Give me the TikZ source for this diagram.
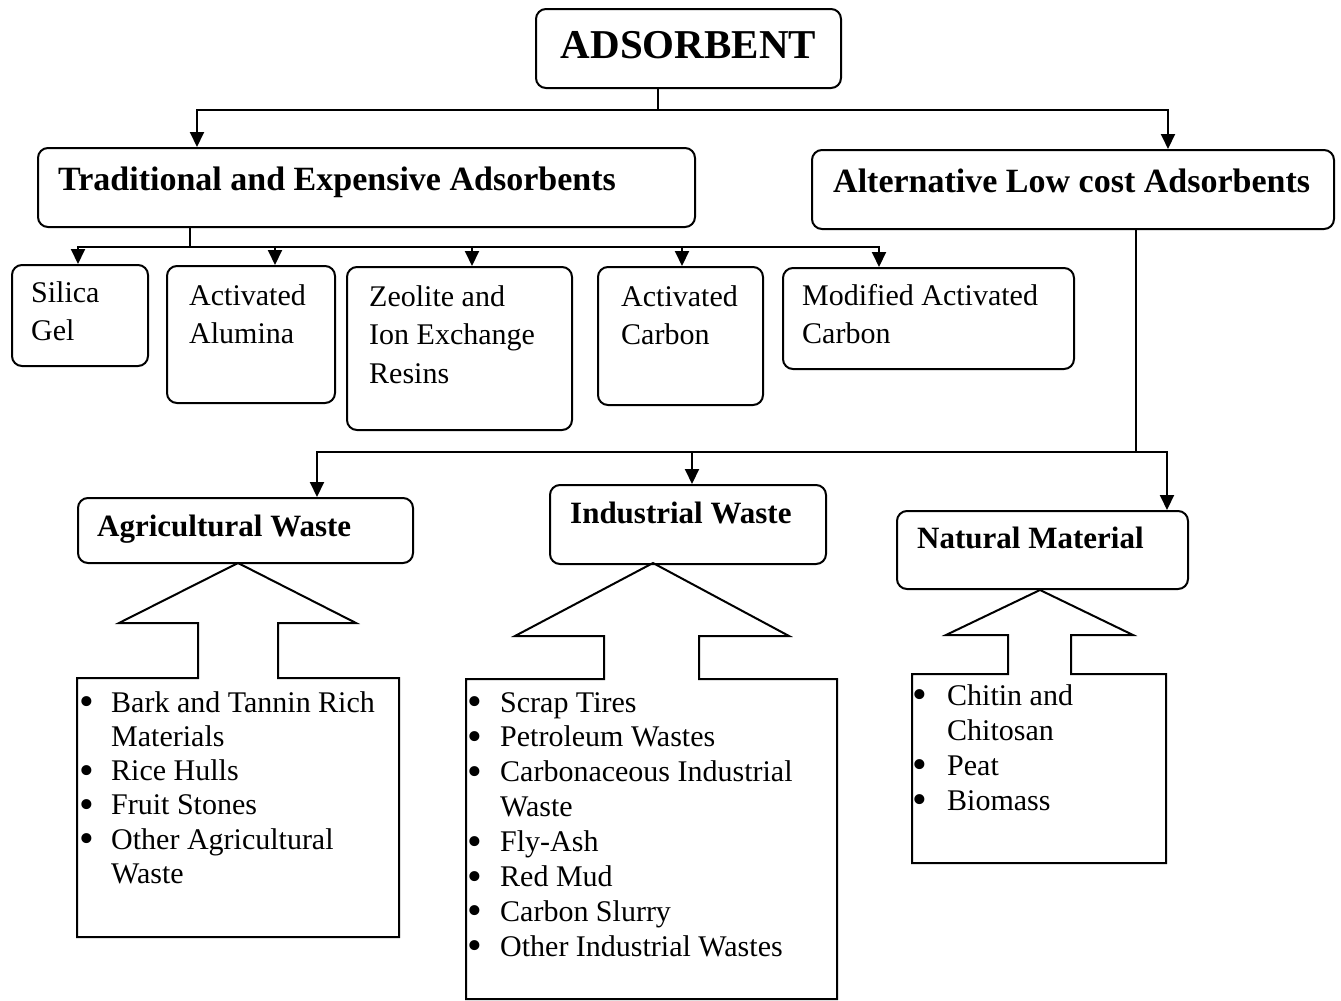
\documentclass[tikz,border=0pt]{standalone}
\usepackage{fontspec}
\usepackage{graphicx}
\setmainfont{Liberation Serif}
\usetikzlibrary{arrows.meta}

\tikzset{
  rbox/.style={draw,line width=2pt,rounded corners=10pt,anchor=north west,inner sep=0pt},
  btxt/.style={anchor=base west,align=left,inner sep=0pt,font=\fontsize{30}{38.5}\selectfont},
  htxt/.style={anchor=base west,inner sep=0pt,font=\bfseries\fontsize{34}{40}\selectfont},
  stxt/.style={anchor=base west,inner sep=0pt,font=\bfseries\fontsize{31}{36}\selectfont},
  conn/.style={line width=2pt},
  blk/.style={line width=2pt,line join=miter},
}
\newcommand{\bul}[1]{\makebox[#1][l]{\smash{\raisebox{-3.5pt}{\scalebox{1.4}{\textbullet}}}}}

\begin{document}
\begin{tikzpicture}[x=1pt,y=-1pt,>={Triangle[length=15pt,width=14pt]}]
\useasboundingbox (0,0) rectangle (1341,1001);

% top
\node[rbox,minimum width=305pt,minimum height=79pt,text depth=8pt,font=\bfseries\fontsize{41}{41}\selectfont] (root) at (535,8) {ADSORBENT};

\node[rbox,minimum width=657pt,minimum height=79pt] (trad) at (37,147) {};
\node[htxt] (tradtxt) at (58,190) {Traditional and Expensive Adsorbents};
\node[rbox,minimum width=522pt,minimum height=79pt] (alt) at (811,149) {};
\node[htxt] (alttxt) at (833,192) {Alternative Low cost Adsorbents};

% traditional ones (text placed by its last baseline)
\node[rbox,minimum width=136pt,minimum height=101pt] (silica) at (11,264) {};
\node[btxt] (silicatxt) at (31,340.5) {Silica\\Gel};
\node[rbox,minimum width=168pt,minimum height=137pt] (alumina) at (166,265) {};
\node[btxt] (aluminatxt) at (189,343.5) {Activated\\Alumina};
\node[rbox,minimum width=225pt,minimum height=163pt] (zeolite) at (346,266) {};
\node[btxt] (zeolitetxt) at (369,383) {Zeolite and\\Ion Exchange\\Resins};
\node[rbox,minimum width=165pt,minimum height=138pt] (acarbon) at (597,266) {};
\node[btxt] (acarbontxt) at (621,344.5) {Activated\\Carbon};
\node[rbox,minimum width=291pt,minimum height=101pt] (mcarbon) at (782,267) {};
\node[btxt] (mcarbontxt) at (802,343.5) {Modified Activated\\Carbon};

% low cost ones
\node[rbox,minimum width=335pt,minimum height=65pt] (agr) at (77,497) {};
\node[stxt] (agrtxt) at (97,536) {Agricultural Waste};
\node[rbox,minimum width=276pt,minimum height=79pt] (ind) at (549,484) {};
\node[stxt] (indtxt) at (570,523) {Industrial Waste};
\node[rbox,minimum width=291pt,minimum height=78pt] (nat) at (896,510) {};
\node[stxt] (nattxt) at (917,548) {Natural Material};

% connectors
\coordinate (j0) at (658,110);
\draw[conn] (root.south -| j0) -- (j0);
\draw[conn,->] (j0) -| (trad.north -| 197,0);
\draw[conn,->] (j0) -| (alt.north -| 1168,0);

\coordinate (j1) at (190,247);
\draw[conn] (trad.south -| j1) -- (j1);
\foreach \b/\x in {silica/78,alumina/275,zeolite/472,acarbon/682,mcarbon/879}
  \draw[conn,->] (j1) -| (\b.north -| \x,0);

\coordinate (j2) at (1136,452);
\draw[conn] (alt.south -| j2) -- (j2);
\foreach \b/\x in {agr/317,ind/692,nat/1167}
  \draw[conn,->] (j2) -| (\b.north -| \x,0);

% block arrows with lists
\draw[blk] (77,678) -- (198,678) -- (198,623) -- (119,623) -- (238,563) -- (356,623) -- (278,623) -- (278,678) -- (399,678) -- (399,937) -- (77,937) -- cycle;
\node[btxt,font=\fontsize{30}{34.3}\selectfont] (agrlist) at (79,883.5)
  {\bul{32pt}Bark and Tannin Rich\\\hspace*{32pt}Materials\\\bul{32pt}Rice Hulls\\\bul{32pt}Fruit Stones\\\bul{32pt}Other Agricultural\\\hspace*{32pt}Waste};

\draw[blk] (466,679) -- (604,679) -- (604,636) -- (515,636) -- (653,563) -- (789,636) -- (699,636) -- (699,679) -- (837,679) -- (837,999) -- (466,999) -- cycle;
\node[btxt,font=\fontsize{30}{34.9}\selectfont] (indlist) at (467,956.3)
  {\bul{33pt}Scrap Tires\\\bul{33pt}Petroleum Wastes\\\bul{33pt}Carbonaceous Industrial\\\hspace*{33pt}Waste\\\bul{33pt}Fly-Ash\\\bul{33pt}Red Mud\\\bul{33pt}Carbon Slurry\\\bul{33pt}Other Industrial Wastes};

\draw[blk] (912,674) -- (1008,674) -- (1008,635) -- (946,635) -- (1040,590) -- (1133,635) -- (1071,635) -- (1071,674) -- (1166,674) -- (1166,863) -- (912,863) -- cycle;
\node[btxt,font=\fontsize{30}{35}\selectfont] (natlist) at (912,810)
  {\bul{35pt}Chitin and\\\hspace*{35pt}Chitosan\\\bul{35pt}Peat\\\bul{35pt}Biomass};
\end{tikzpicture}
\end{document}
